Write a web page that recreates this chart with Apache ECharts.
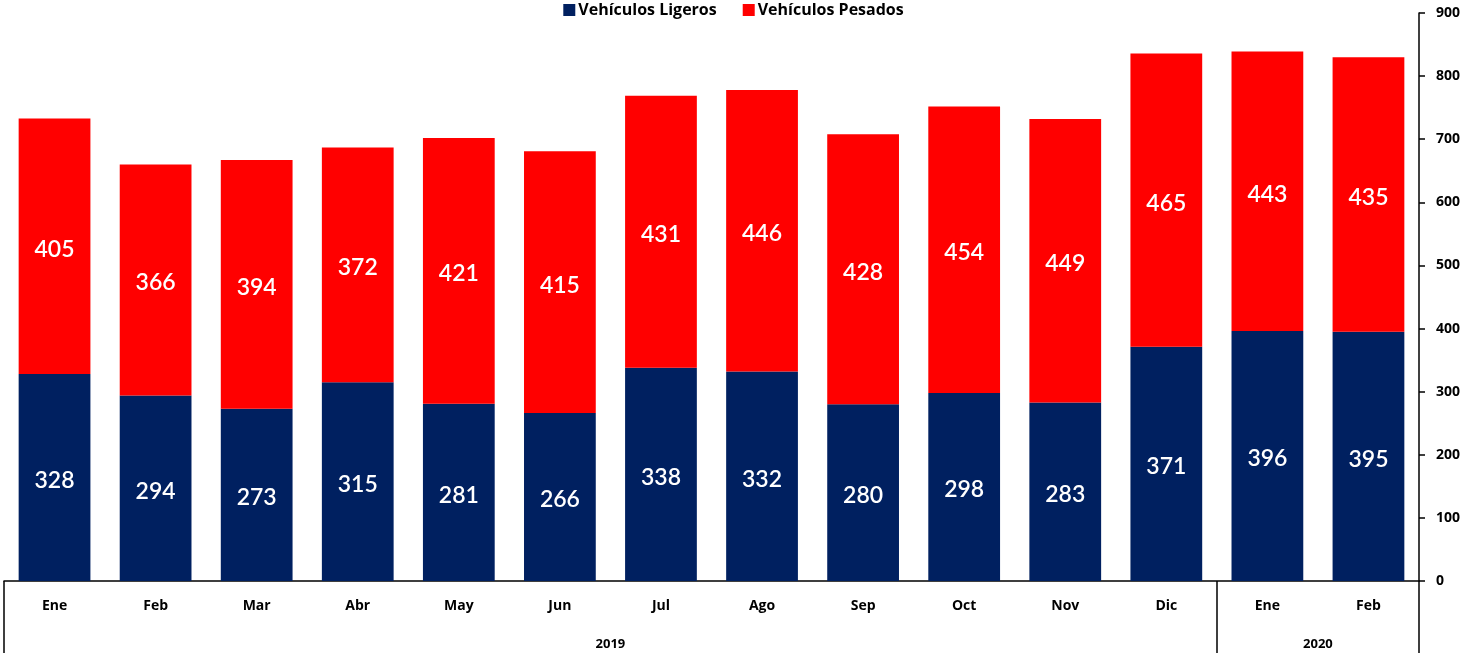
<!DOCTYPE html>
<html>
<head>
<meta charset="utf-8">
<script src="https://cdn.jsdelivr.net/npm/echarts@6/dist/echarts.min.js"></script>
<style>
  html, body { margin: 0; padding: 0; background: #fff; }
  #chart { width: 1467px; height: 653px; }
</style>
</head>
<body>
<div id="chart"></div>
<script>
// datos
var months = ["Ene", "Feb", "Mar", "Abr", "May", "Jun", "Jul", "Ago", "Sep", "Oct", "Nov", "Dic", "Ene", "Feb"];
var ligeros = [328, 294, 273, 315, 281, 266, 338, 332, 280, 298, 283, 371, 396, 395];
var pesados = [405, 366, 394, 372, 421, 415, 431, 446, 428, 454, 449, 465, 443, 435];
var years = ["2019", "2020"];
var yearSpans = [12, 2];

// limites y centros de cada año sobre el eje de valores
var bounds = [0];
var mids = [];
yearSpans.forEach(function (n, i) {
  mids.push(bounds[i] + n / 2);
  bounds.push(bounds[i] + n);
});

var font = "Open Sans";
var chart = echarts.init(document.getElementById("chart"));

var labelStyle = {
  show: true,
  position: "inside",
  offset: [0, 3],
  color: "#fff",
  fontFamily: "Lato",
  fontWeight: 600,
  fontSize: 23
};

chart.setOption({
  animation: false,
  textStyle: { fontFamily: font },
  legend: {
    top: -3,
    left: "center",
    itemWidth: 12,
    itemHeight: 12,
    itemGap: 26,
    icon: "rect",
    textStyle: { fontFamily: font, fontWeight: "bold", fontSize: 16, color: "#000", padding: [0, 0, 0, -2] },
    data: ["Vehículos Ligeros", "Vehículos Pesados"]
  },
  grid: { left: 4, right: 48, top: 13, bottom: 72 },
  xAxis: [
    {
      type: "category",
      data: months,
      axisLine: { lineStyle: { color: "#000", width: 1.5 } },
      axisTick: { show: false },
      axisLabel: { color: "#000", fontWeight: "bold", fontSize: 14, margin: 18 }
    },
    {
      type: "value",
      min: 0,
      max: bounds[bounds.length - 1],
      position: "bottom",
      axisLine: { show: false },
      splitLine: { show: false },
      axisTick: {
        show: true,
        customValues: bounds,
        length: 72,
        lineStyle: { color: "#000", width: 1.5 }
      },
      axisLabel: {
        customValues: mids,
        margin: 57,
        color: "#000",
        fontWeight: "bold",
        fontSize: 13,
        formatter: function (v) {
          return years[mids.indexOf(v)];
        }
      }
    }
  ],
  yAxis: {
    type: "value",
    position: "right",
    min: 0,
    max: 900,
    interval: 100,
    splitLine: { show: false },
    axisLine: { show: true, onZero: false, lineStyle: { color: "#000", width: 1.5 } },
    axisTick: { show: true, length: 6, lineStyle: { color: "#000", width: 1.5 } },
    axisLabel: { color: "#000", fontWeight: "bold", fontSize: 14, margin: 17 }
  },
  series: [
    {
      name: "Vehículos Ligeros",
      type: "bar",
      stack: "total",
      barWidth: "71%",
      itemStyle: { color: "#002060" },
      label: labelStyle,
      data: ligeros
    },
    {
      name: "Vehículos Pesados",
      type: "bar",
      stack: "total",
      barWidth: "71%",
      itemStyle: { color: "#FF0000" },
      label: labelStyle,
      data: pesados
    }
  ]
});
</script>
</body>
</html>
